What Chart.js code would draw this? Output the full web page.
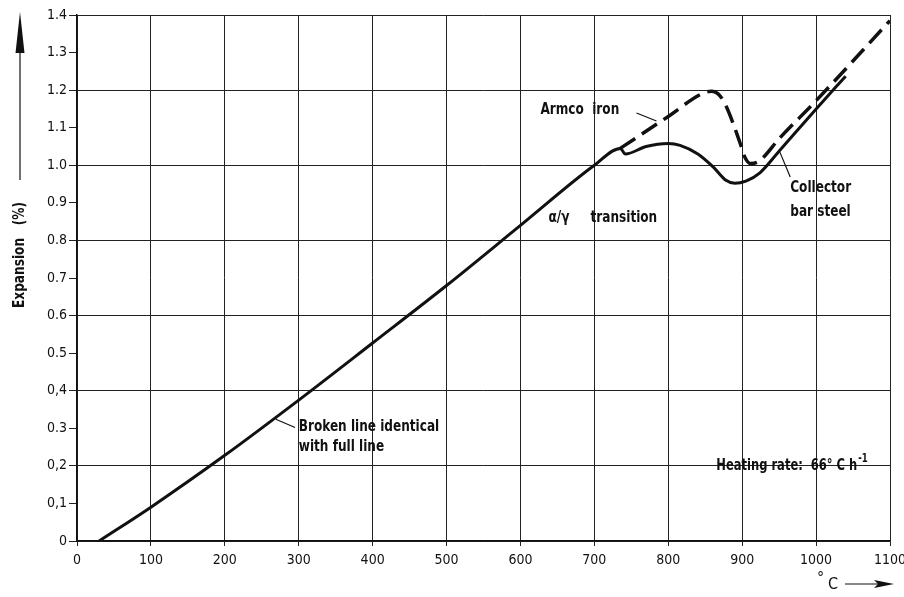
<!DOCTYPE html>
<html>
<head>
<meta charset="utf-8">
<script src="https://cdn.jsdelivr.net/npm/chart.js@4/dist/chart.umd.min.js"></script>
<style>
  html, body { margin: 0; padding: 0; background: #fff; }
  #wrap { width: 904px; height: 597px; }
</style>
</head>
<body>
<div id="wrap"><canvas id="chart" width="904" height="597"></canvas></div>
<script>
// collector bar steel (full line)
const steelTemp = [30, 100, 200, 300, 400, 500, 600, 700, 735, 742, 770, 800, 816, 840, 861, 878, 890, 905, 924, 951, 1001, 1040];
const steelExp = [0, 0.09, 0.228, 0.375, 0.527, 0.68, 0.84, 1.0, 1.045, 1.03, 1.05, 1.058, 1.053, 1.03, 0.995, 0.96, 0.952, 0.958, 0.98, 1.04, 1.152, 1.237];

// Armco iron (broken line), identical with full line below 735 °C
const armcoTemp = [735, 800, 845, 858, 870, 880, 888, 897, 904, 911, 922, 951, 1001, 1100];
const armcoExp = [1.045, 1.13, 1.19, 1.197, 1.185, 1.15, 1.11, 1.06, 1.02, 1.005, 1.01, 1.073, 1.174, 1.385];

const xTicks = [0, 100, 200, 300, 400, 500, 600, 700, 800, 900, 1000, 1100];
const yTickLabels = ["0", "0,1", "0,2", "0.3", "0,4", "0.5", "0.6", "0.7", "0.8", "0.9", "1.0", "1.1", "1.2", "1.3", "1.4"];

const FONT = "'Liberation Sans Narrow', 'DejaVu Sans Condensed', 'Liberation Sans', Arial, sans-serif";
const SQUEEZE = 0.84; // the original lettering is condensed

const toPts = (xs, ys) => xs.map((x, i) => ({ x: x, y: ys[i] }));

// text notes, placed in data units
const notes = [
  { text: "Armco  iron", x: 627, y: 1.147 },
  { text: "α/γ     transition", x: 638, y: 0.86 },
  { text: "Collector", x: 965, y: 0.94 },
  { text: "bar steel", x: 965, y: 0.876 },
  { text: "Broken line identical", x: 300, y: 0.303 },
  { text: "with full line", x: 300, y: 0.25 }
];
const leaders = [
  [757, 1.139, 784, 1.118],
  [951, 1.035, 965, 0.969],
  [269, 0.324, 295, 0.302]
];

// draws narrow text, returns its drawn width
function narrowText(ctx, text, x, y, sq) {
  const k = sq || SQUEEZE;
  ctx.save();
  ctx.translate(x, y);
  ctx.scale(k, 1);
  ctx.fillText(text, 0, 0);
  const w = ctx.measureText(text).width * k;
  ctx.restore();
  return w;
}

const extras = {
  id: "extras",
  afterDraw(chart) {
    const { ctx, chartArea: a, scales } = chart;
    const px = (v) => scales.x.getPixelForValue(v);
    const py = (v) => scales.y.getPixelForValue(v);
    ctx.save();
    ctx.fillStyle = "#111";
    ctx.strokeStyle = "#111";

    // notes
    ctx.font = "bold 16px " + FONT;
    ctx.textBaseline = "middle";
    ctx.textAlign = "left";
    notes.forEach((n) => narrowText(ctx, n.text, px(n.x), py(n.y)));

    // heating rate, with superscript
    const hx = px(865), hy = py(0.2);
    const bw = narrowText(ctx, "Heating rate:  66° C h", hx, hy, 0.8);
    ctx.font = "bold 12px " + FONT;
    narrowText(ctx, "-1", hx + bw + 1, hy - 7, 0.8);

    ctx.lineWidth = 1.2;
    leaders.forEach((l) => {
      ctx.beginPath();
      ctx.moveTo(px(l[0]), py(l[1]));
      ctx.lineTo(px(l[2]), py(l[3]));
      ctx.stroke();
    });

    // y-axis title with arrow
    const ax = a.left - 57;
    ctx.save();
    ctx.translate(ax, a.top + 240);
    ctx.rotate(-Math.PI / 2);
    ctx.scale(SQUEEZE + 0.06, 1);
    ctx.font = "bold 15px " + FONT;
    ctx.textAlign = "center";
    ctx.textBaseline = "middle";
    ctx.fillText("Expansion   (%)", 0, 0);
    ctx.restore();
    ctx.lineWidth = 1.2;
    ctx.beginPath();
    ctx.moveTo(ax, a.top + 165);
    ctx.lineTo(ax, a.top + 30);
    ctx.stroke();
    ctx.beginPath();
    ctx.moveTo(ax, a.top - 3);
    ctx.lineTo(ax - 4.5, a.top + 38);
    ctx.lineTo(ax + 4.5, a.top + 38);
    ctx.closePath();
    ctx.fill();

    // x-axis title with arrow
    const ty = a.bottom + 43;
    ctx.font = "16px " + FONT;
    ctx.textAlign = "left";
    ctx.textBaseline = "middle";
    ctx.fillText("°", a.right - 73, ty - 5);
    ctx.fillText("C", a.right - 62, ty + 1);
    ctx.lineWidth = 1.2;
    ctx.beginPath();
    ctx.moveTo(a.right - 45, ty);
    ctx.lineTo(a.right - 12, ty);
    ctx.stroke();
    ctx.beginPath();
    ctx.moveTo(a.right + 4, ty);
    ctx.lineTo(a.right - 16, ty - 4);
    ctx.lineTo(a.right - 12, ty);
    ctx.lineTo(a.right - 16, ty + 4);
    ctx.closePath();
    ctx.fill();
    ctx.restore();
  }
};

new Chart(document.getElementById("chart"), {
  type: "scatter",
  data: {
    datasets: [
      {
        label: "Collector bar steel",
        data: toPts(steelTemp, steelExp),
        showLine: true,
        borderColor: "#111",
        borderWidth: 3,
        pointRadius: 0,
        cubicInterpolationMode: "monotone",
        fill: false
      },
      {
        label: "Armco iron",
        data: toPts(armcoTemp, armcoExp),
        showLine: true,
        borderColor: "#111",
        borderWidth: 3.5,
        borderDash: [18, 8],
        pointRadius: 0,
        cubicInterpolationMode: "monotone",
        fill: false
      }
    ]
  },
  options: {
    responsive: false,
    animation: false,
    layout: { padding: { top: 15, right: 14, left: 0, bottom: 0 } },
    plugins: {
      legend: { display: false },
      tooltip: { enabled: false }
    },
    scales: {
      x: {
        type: "linear",
        min: 0,
        max: 1100,
        afterBuildTicks: (s) => { s.ticks = xTicks.map((v) => ({ value: v })); },
        afterFit: (s) => { s.height = 56; s.paddingRight = 0; },
        ticks: {
          color: "#111",
          font: { family: FONT, size: 14 },
          padding: 6,
          callback: (v) => String(v)
        },
        grid: { color: "#222", lineWidth: 1, tickLength: 5, tickColor: "#222" },
        border: { color: "#111", width: 1.5 }
      },
      y: {
        type: "linear",
        min: 0,
        max: 1.4,
        afterBuildTicks: (s) => { s.ticks = yTickLabels.map((t, i) => ({ value: i / 10 })); },
        afterFit: (s) => { s.width = 77; },
        ticks: {
          color: "#111",
          font: { family: FONT, size: 14 },
          padding: 2,
          callback: (v, i) => yTickLabels[i]
        },
        grid: {
          color: (c) => (c.index % 2 === 0 ? "#222" : "rgba(0,0,0,0)"),
          tickColor: "#222",
          lineWidth: 1,
          tickLength: 8
        },
        border: { color: "#111", width: 1.5 }
      }
    }
  },
  plugins: [extras]
});
</script>
</body>
</html>
